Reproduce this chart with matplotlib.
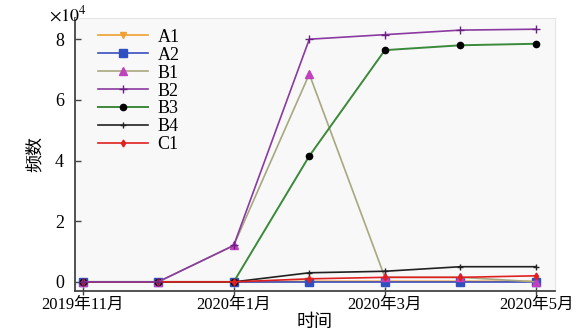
import matplotlib
matplotlib.use("Agg")
import matplotlib.pyplot as plt

FAM = ['Liberation Serif', 'Noto Sans CJK SC']
plt.rcParams['font.family'] = FAM
plt.rcParams['mathtext.fontset'] = 'stix'

months = ['2019年11月', '2019年12月', '2020年1月', '2020年2月', '2020年3月', '2020年4月', '2020年5月']
tick_idx = [0, 2, 4, 6]

# values in units of 10^4
A1 = [0, 0, 0, 0.02, 0.02, 0.02, 0.02]
A2 = [0, 0, 0, 0.0, 0.0, 0.0, 0.0]
B1 = [0, 0, 1.2, 6.85, 0.15, 0.15, 0.0]
B2 = [0, 0, 1.2, 8.0, 8.15, 8.3, 8.33]
B3 = [0, 0, 0, 4.15, 7.64, 7.8, 7.85]
B4 = [0, 0, 0, 0.3, 0.35, 0.5, 0.5]
C1 = [0, 0, 0, 0.1, 0.15, 0.15, 0.2]

fig = plt.figure(figsize=(5.79, 3.36), dpi=100)
ax = fig.add_axes([0.1295, 0.134, 0.829, 0.8125])
ax.set_facecolor('#f8f8f8')
x = list(range(len(months)))

ax.plot(x, A1, color='#f0a030', lw=1.2, marker='v', ms=4, label='A1', zorder=3)
ax.plot(x, A2, color='#3a4fc0', lw=1.2, marker='s', ms=6, mfc='#3050c0', mec='#3050c0', label='A2', zorder=3)
ax.plot(x, B1, color='#a8a880', lw=1.2, marker='^', ms=6, mfc='#c040c0', mec='#c040c0', label='B1', zorder=4)
ax.plot(x, B2, color='#8a3aa0', lw=1.2, marker='+', ms=6, mec='#6a2080', label='B2', zorder=5)
ax.plot(x, B3, color='#3a8a3a', lw=1.4, marker='o', ms=4.5, mfc='black', mec='black', label='B3', zorder=4)
ax.plot(x, B4, color='#222222', lw=1.2, marker='+', ms=5, mec='#222222', label='B4', zorder=4)
ax.plot(x, C1, color='#e02020', lw=1.2, marker='d', ms=3.5, mfc='#e02020', mec='#e02020', label='C1', zorder=4)

ax.set_xlim(-0.1, 6.25)
ax.set_ylim(-0.3, 8.7)
ax.set_xticks(tick_idx)
ax.set_xticklabels([months[i] for i in tick_idx], fontsize=12)
ax.set_yticks([0, 2, 4, 6, 8])
ax.set_yticklabels(['0', '2', '4', '6', '8'], fontsize=13)
ax.tick_params(axis='y', direction='in', length=4, width=1, color='#444444', pad=8)
ax.tick_params(axis='x', direction='inout', length=6, width=1, color='#444444', pad=1)

for s in ['top', 'right']:
    ax.spines[s].set_color('#e6e6e6')
    ax.spines[s].set_linewidth(0.8)
for s in ['left', 'bottom']:
    ax.spines[s].set_color('#444444')
    ax.spines[s].set_linewidth(1.3)

ax.set_xlabel('时间', fontsize=13, labelpad=1)
ax.set_ylabel('频数', fontsize=13, labelpad=8)
fig.text(0.085, 0.955, r'$\times10^4$', fontsize=13, ha='left', va='center')

leg = ax.legend(loc='upper left', bbox_to_anchor=(0.025, 1.0), frameon=False, fontsize=13,
                handlelength=2.8, labelspacing=0.05, handletextpad=0.5, borderaxespad=0.2)

fig.savefig('out.png', dpi=100)
